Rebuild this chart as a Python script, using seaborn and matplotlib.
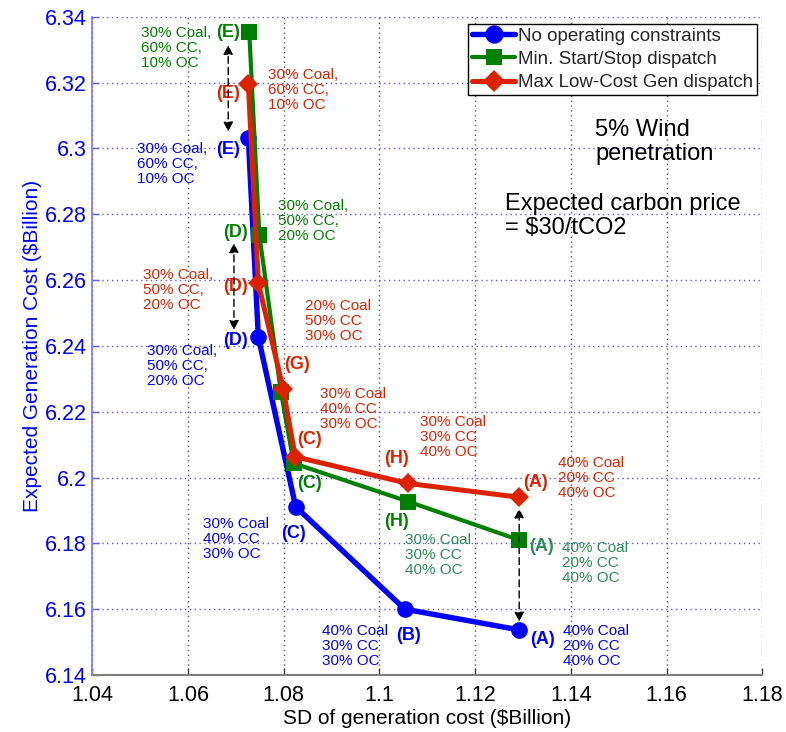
import matplotlib
matplotlib.use("Agg")
import matplotlib.pyplot as plt
import seaborn as sns
import pandas as pd

# ---------------- data ----------------
blue_points = ["(E)", "(D)", "(C)", "(B)", "(A)"]
blue_sd = [1.0726, 1.0747, 1.0825, 1.1053, 1.1292]
blue_cost = [6.3031, 6.2426, 6.1911, 6.1600, 6.1537]

green_points = ["(E)", "(D)", "(G)", "(C)", "(H)", "(A)"]
green_sd = [1.0728, 1.0749, 1.0794, 1.0821, 1.1060, 1.1292]
green_cost = [6.3353, 6.2737, 6.2261, 6.2043, 6.1927, 6.1810]

red_points = ["(E)", "(D)", "(G)", "(C)", "(H)", "(A)"]
red_sd = [1.0726, 1.0747, 1.0799, 1.0824, 1.1060, 1.1292]
red_cost = [6.3196, 6.2590, 6.2268, 6.2063, 6.1982, 6.1940]

series_names = ["No operating constraints", "Min. Start/Stop dispatch",
                "Max Low-Cost Gen dispatch"]

x_ticks = [1.04, 1.06, 1.08, 1.10, 1.12, 1.14, 1.16, 1.18]
x_tick_labels = ["1.04", "1.06", "1.08", "1.1", "1.12", "1.14", "1.16", "1.18"]
y_ticks = [6.14, 6.16, 6.18, 6.20, 6.22, 6.24, 6.26, 6.28, 6.30, 6.32, 6.34]
y_tick_labels = ["6.14", "6.16", "6.18", "6.2", "6.22", "6.24", "6.26",
                 "6.28", "6.3", "6.32", "6.34"]

# ---------------- style ----------------
sns.set_theme(style="white")
plt.rcParams["font.family"] = ["Liberation Sans", "DejaVu Sans"]

BLUE = "#0000ff"
GREEN = "#008000"
SEAGREEN = "#2e8b57"
RED = "#dd2200"

fig = plt.figure(figsize=(7.86, 7.32), dpi=100)
ax = fig.add_axes([92.3 / 786, 1 - 675 / 732, 670 / 786, 658.3 / 732])

df_b = pd.DataFrame({"sd": blue_sd, "cost": blue_cost, "pt": blue_points})
df_g = pd.DataFrame({"sd": green_sd, "cost": green_cost, "pt": green_points})
df_r = pd.DataFrame({"sd": red_sd, "cost": red_cost, "pt": red_points})

sns.lineplot(data=df_b, x="sd", y="cost", sort=False, ax=ax, color=BLUE,
             marker="o", markersize=12, markeredgewidth=0, linewidth=3.9,
             label=series_names[0], zorder=3)
sns.lineplot(data=df_g, x="sd", y="cost", sort=False, ax=ax, color=GREEN,
             marker="s", markersize=11, markeredgewidth=0, linewidth=3.0,
             label=series_names[1], zorder=4)
sns.lineplot(data=df_r, x="sd", y="cost", sort=False, ax=ax, color=RED,
             marker="D", markersize=10, markeredgewidth=0, linewidth=3.6,
             label=series_names[2], zorder=5)

ax.set_xlim(1.04, 1.18)
ax.set_ylim(6.14, 6.34)
ax.set_xticks(x_ticks)
ax.set_xticklabels(x_tick_labels)
ax.set_yticks(y_ticks)
ax.set_yticklabels(y_tick_labels)

ax.xaxis.grid(True, linestyle=(0, (1, 2.5)), color="#555555", linewidth=1.0)
ax.yaxis.grid(True, linestyle=(0, (1, 2.5)), color="#5555ff", linewidth=1.0)
ax.set_axisbelow(True)

for s in ["top", "right"]:
    ax.spines[s].set_visible(False)
ax.spines["left"].set_color("#8080ff")
ax.spines["left"].set_linewidth(1.3)
ax.spines["bottom"].set_color("#808080")
ax.spines["bottom"].set_linewidth(1.5)

ax.tick_params(axis="y", direction="in", length=5, width=1, color="#6060ff",
               labelcolor=BLUE, labelsize=15.5, pad=4)
ax.tick_params(axis="x", direction="in", length=5, width=1, color="#404040",
               labelcolor="black", labelsize=15.5, pad=7)
ax.tick_params(left=True, bottom=True)

ax.set_xlabel("SD of generation cost ($Billion)", fontsize=15, color="black",
              labelpad=2)
ax.set_ylabel("Expected Generation Cost ($Billion)", fontsize=15, color=BLUE,
              labelpad=2)

leg = ax.legend(loc="upper right", bbox_to_anchor=(0.992, 0.989),
                borderaxespad=0, fontsize=13.5, frameon=True, fancybox=False,
                framealpha=1, edgecolor="black", handlelength=2.3,
                handletextpad=0.15, borderpad=0.2, labelspacing=0.32,
                markerscale=1.1)
leg.get_frame().set_linewidth(1.0)


# -------- annotations (placed by reference pixel position) --------
def ref(px, py):
    return ((px - 92.3) / 670.0, 1 - (py - 16.7) / 658.3)


def block(txt, px, py, color):
    ax.text(*ref(px, py), txt, transform=ax.transAxes, ha="left", va="center",
            fontsize=11, color=color, linespacing=1.1, zorder=6)


def letter(txt, px, py, color):
    ax.text(*ref(px, py), txt, transform=ax.transAxes, ha="center",
            va="center", fontsize=13, fontweight="bold", color=color, zorder=6)


mix_E = "30% Coal,\n60% CC,\n10% OC"
mix_D = "30% Coal,\n50% CC,\n20% OC"
mix_G = "20% Coal\n50% CC\n30% OC"
mix_C = "30% Coal\n40% CC\n30% OC"
mix_H = "30% Coal\n30% CC\n40% OC"
mix_B = "40% Coal\n30% CC\n30% OC"
mix_A = "40% Coal\n20% CC\n40% OC"

# green
block(mix_E, 140.7, 47.7, GREEN)
letter("(E)", 227.7, 32.3, GREEN)
letter("(D)", 235.7, 232.7, GREEN)
block(mix_D, 278.3, 220.7, GREEN)
letter("(C)", 310, 483.3, GREEN)
letter("(H)", 396.7, 521.7, GREEN)
block(mix_H, 405, 555, SEAGREEN)
letter("(A)", 541.7, 546.7, SEAGREEN)
block(mix_A, 561.7, 563, SEAGREEN)

# red
letter("(E)", 227.7, 93.3, RED)
block(mix_E, 268.3, 90, RED)
letter("(D)", 235, 286.7, RED)
block(mix_D, 143, 290, RED)
block(mix_G, 305, 321, RED)
letter("(G)", 297, 364, RED)
block(mix_C, 320, 409, RED)
letter("(C)", 310, 440, RED)
letter("(H)", 396.7, 458.3, RED)
block(mix_H, 420, 436.7, RED)
letter("(A)", 535.7, 482.7, RED)
block(mix_A, 557.7, 477.7, RED)

# blue
letter("(E)", 227.7, 149.3, BLUE)
block(mix_E, 136.7, 164, BLUE)
letter("(D)", 235, 340, BLUE)
block(mix_D, 147.3, 366, BLUE)
letter("(C)", 293.3, 533.3, BLUE)
block(mix_C, 202.7, 539.3, BLUE)
letter("(B)", 408.3, 635, BLUE)
block(mix_B, 321.7, 646, BLUE)
letter("(A)", 542.7, 640, BLUE)
block(mix_A, 563.3, 646.3, BLUE)

# dashed double arrows between scenarios
arrow_x = [1.0684, 1.0696, 1.1292]
arrow_top = [6.3314, 6.2712, 6.1906]
arrow_bottom = [6.3051, 6.2448, 6.1562]
for xa, yt, yb in zip(arrow_x, arrow_top, arrow_bottom):
    ax.annotate("", xy=(xa, yt), xytext=(xa, yb),
                arrowprops=dict(arrowstyle="<|-|>", linestyle=(0, (5, 3)),
                                color="black", lw=1.0, mutation_scale=14,
                                shrinkA=0, shrinkB=0), zorder=7)

# side notes
ax.text(*ref(595, 142), "5% Wind\npenetration", transform=ax.transAxes,
        ha="left", va="center", fontsize=17, color="black", linespacing=1.15)
ax.text(*ref(505, 216), "Expected carbon price\n= $30/tCO2",
        transform=ax.transAxes, ha="left", va="center", fontsize=17,
        color="black", linespacing=1.15)

fig.savefig("out.png", dpi=100)
